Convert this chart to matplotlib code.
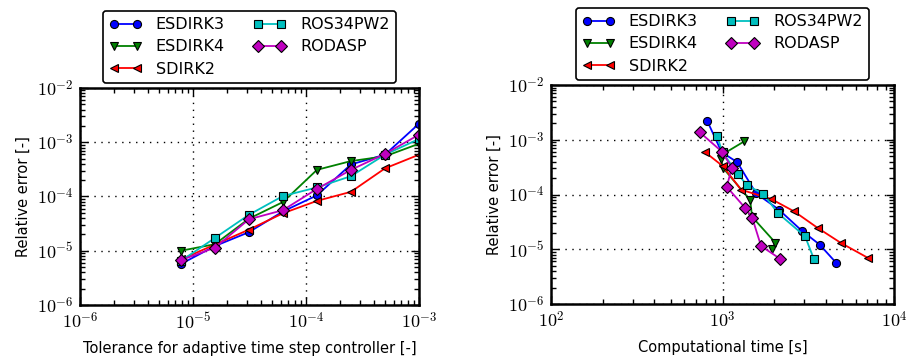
import matplotlib
matplotlib.use("Agg")
import matplotlib.pyplot as plt
from matplotlib.ticker import LogLocator, FuncFormatter, NullFormatter
import math

plt.rcParams['font.family'] = ['DejaVu Sans']
plt.rcParams['mathtext.fontset'] = 'cm'

# ---- data ----
methods = ["ESDIRK3", "ESDIRK4", "SDIRK2", "ROS34PW2", "RODASP"]
tolerance = [7.8125e-6, 1.5625e-5, 3.125e-5, 6.25e-5, 1.25e-4, 2.5e-4, 5e-4, 1e-3]

err_esdirk3 = [5.7e-6, 1.22e-5, 2.2e-5, 5.3e-5, 1.05e-4, 3.9e-4, 5.9e-4, 2.2e-3]
err_esdirk4 = [1.0e-5, 1.32e-5, 3.9e-5, 7.9e-5, 3.1e-4, 4.5e-4, 5.5e-4, 9.4e-4]
err_sdirk2 = [6.9e-6, 1.3e-5, 2.45e-5, 4.9e-5, 8.3e-5, 1.22e-4, 3.3e-4, 5.9e-4]
err_ros34pw2 = [6.5e-6, 1.72e-5, 4.6e-5, 1.02e-4, 1.47e-4, 2.37e-4, 5.9e-4, 1.15e-3]
err_rodasp = [6.7e-6, 1.14e-5, 3.8e-5, 5.6e-5, 1.38e-4, 3.1e-4, 6.1e-4, 1.38e-3]

time_esdirk3 = [4590, 3680, 2890, 2130, 1570, 1218, 990, 815]
time_esdirk4 = [1946, 2033, 1489, 1449, 1004, 980, 1010, 1343]
time_sdirk2 = [7080, 4910, 3590, 2620, 1920, 1285, 1004, 793]
time_ros34pw2 = [3420, 3030, 2100, 1733, 1392, 1228, 1000, 931]
time_rodasp = [2167, 1679, 1489, 1361, 1059, 1133, 990, 735]

errors = [err_esdirk3, err_esdirk4, err_sdirk2, err_ros34pw2, err_rodasp]
times = [time_esdirk3, time_esdirk4, time_sdirk2, time_ros34pw2, time_rodasp]

colors = ['#0000ff', '#008000', '#ff0000', '#00bfbf', '#bf00bf']
markers = ['o', 'v', '<', 's', 'D']

W, H = 913, 359
fig = plt.figure(figsize=(W / 100, H / 100), dpi=100)


def px_axes(l, r, t, b):
    return fig.add_axes([l / W, 1 - b / H, (r - l) / W, (b - t) / H])


ax1 = px_axes(80, 419, 88, 305)
ax2 = px_axes(551, 894, 85, 304)

pow_fmt = FuncFormatter(lambda v, p: r'$10^{%d}$' % int(round(math.log10(v))) if v > 0 else '')


def style(ax, xlim):
    ax.set_xscale('log')
    ax.set_yscale('log')
    ax.set_xlim(*xlim)
    ax.set_ylim(1e-6, 1e-2)
    for axis in (ax.xaxis, ax.yaxis):
        axis.set_major_locator(LogLocator(base=10))
        axis.set_minor_locator(LogLocator(base=10, subs=[2, 3, 4, 5, 6, 7, 8, 9], numticks=50))
        axis.set_major_formatter(pow_fmt)
        axis.set_minor_formatter(NullFormatter())
    ax.grid(True, which='major', linestyle=(0, (1, 4)), color='black', linewidth=1.0)
    ax.tick_params(which='both', direction='in', top=True, right=True, labelsize=13, pad=5)
    ax.tick_params(which='major', length=6, width=1)
    ax.tick_params(which='minor', length=3.5, width=1)
    for s in ax.spines.values():
        s.set_linewidth(1.8)
    ax.set_ylabel('Relative error [-]', fontsize=10.5, labelpad=4)


handles = []
for i, m in enumerate(methods):
    ax1.plot(tolerance, errors[i], color=colors[i], marker=markers[i], markersize=5.8,
             markeredgecolor='black', markeredgewidth=0.8, linewidth=1.3, label=m)
    h, = ax2.plot(times[i], errors[i], color=colors[i], marker=markers[i], markersize=5.8,
                  markeredgecolor='black', markeredgewidth=0.8, linewidth=1.3, label=m)
    handles.append(h)

style(ax1, (1e-6, 1e-3))
style(ax2, (1e2, 1e4))
ax1.set_xlabel('Tolerance for adaptive time step controller [-]', fontsize=10.5, labelpad=6)
ax2.set_xlabel('Computational time [s]', fontsize=10.5, labelpad=6)

for ax, cx, bot in [(ax1, 249.5, 83), (ax2, 722.5, 80)]:
    leg = ax.legend(handles=handles, labels=methods, ncol=2, numpoints=2,
                    loc='lower center', bbox_to_anchor=(cx / W, 1 - bot / H),
                    bbox_transform=fig.transFigure, fontsize=11.5, fancybox=True,
                    framealpha=1, edgecolor='black', handlelength=2.0,
                    borderpad=0.4, labelspacing=0.45, columnspacing=1.8, handletextpad=0.9,
                    borderaxespad=0)
    leg.get_frame().set_linewidth(1.2)

fig.savefig('out.png', dpi=100)
